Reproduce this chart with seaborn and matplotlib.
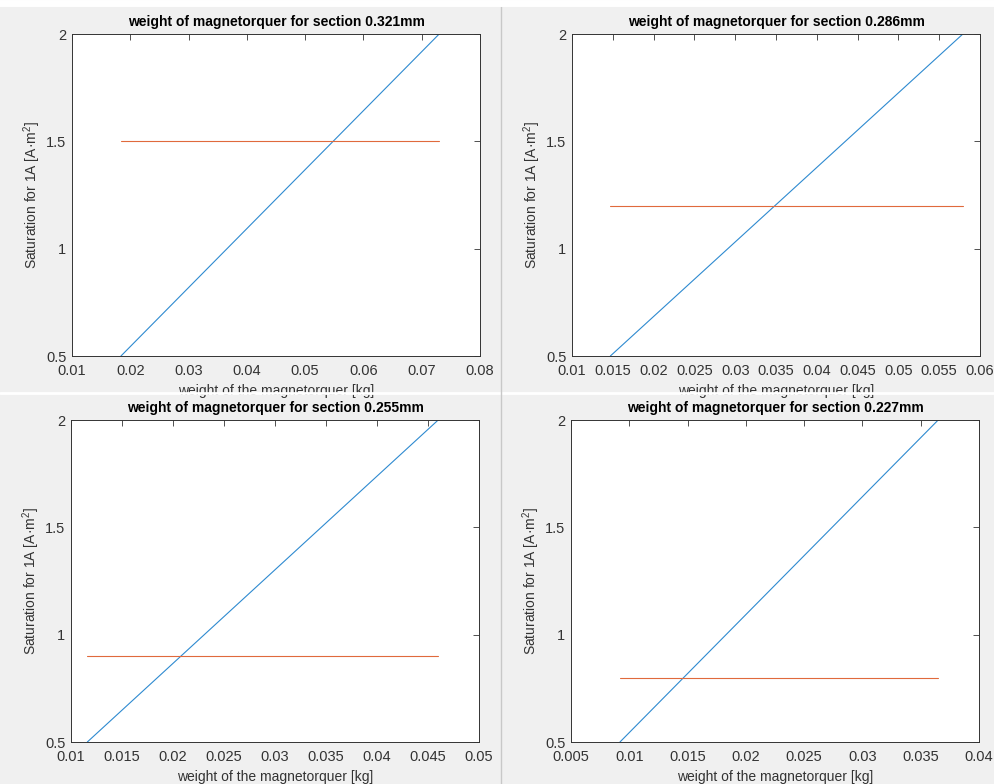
import numpy as np
import pandas as pd
import matplotlib
matplotlib.use('Agg')
import matplotlib.pyplot as plt
import seaborn as sns
from matplotlib.ticker import FormatStrFormatter, MultipleLocator

sns.set_theme(style='white')
plt.rcParams['font.family'] = ['Liberation Sans', 'DejaVu Sans']
plt.rcParams['mathtext.fontset'] = 'custom'
plt.rcParams['mathtext.rm'] = 'Liberation Sans'
plt.rcParams['mathtext.it'] = 'Liberation Sans'

# datos
sections = ['0.321mm', '0.286mm', '0.255mm', '0.227mm']
weight_start = [0.0184, 0.0147, 0.0116, 0.0092]
weight_end = [0.0730, 0.0579, 0.0460, 0.0365]
saturation_start = [0.5, 0.5, 0.5, 0.5]
saturation_end = [2.0, 2.0, 2.0, 2.0]
required = [1.5, 1.2, 0.9, 0.8]
xlims = [(0.01, 0.08), (0.01, 0.06), (0.01, 0.05), (0.005, 0.04)]
xsteps = [0.01, 0.005, 0.005, 0.005]

blue = '#2E8AD0'
red = '#E06A3C'
dark = '#333333'

fig = plt.figure(figsize=(9.95, 7.84), dpi=100, facecolor='#F0F0F0')

# posiciones de los ejes (px medidos en la imagen)
lefts = [72, 572, 71, 571]
tops = [34, 34, 420, 420]
W, H = 995, 784

for i in range(4):
    ax = fig.add_axes([lefts[i] / W, (H - tops[i] - 322) / H, 408 / W, 322 / H])
    ax.set_facecolor('white')
    df = pd.DataFrame({'weight': [weight_start[i], weight_end[i]],
                       'sat': [saturation_start[i], saturation_end[i]]})
    sns.lineplot(data=df, x='weight', y='sat', color=blue, lw=0.8, ax=ax)
    df2 = pd.DataFrame({'weight': [weight_start[i], weight_end[i]],
                        'sat': [required[i], required[i]]})
    sns.lineplot(data=df2, x='weight', y='sat', color=red, lw=0.8, ax=ax)

    ax.set_xlim(*xlims[i])
    ax.set_ylim(0.5, 2)
    ax.xaxis.set_major_locator(MultipleLocator(xsteps[i]))
    ax.yaxis.set_major_locator(MultipleLocator(0.5))
    ax.xaxis.set_major_formatter(FormatStrFormatter('%g'))
    ax.yaxis.set_major_formatter(FormatStrFormatter('%g'))
    ax.tick_params(direction='in', length=4, width=0.6, colors=dark,
                   labelsize=10.5, top=True, right=True)
    ax.tick_params(axis='x', pad=6)
    ax.tick_params(axis='y', pad=4)
    for s in ax.spines.values():
        s.set_color(dark)
        s.set_linewidth(0.7)
    ax.set_title('weight of magnetorquer for section ' + sections[i],
                 fontsize=10, fontweight='bold', color='black', pad=6)
    ax.set_xlabel('weight of the magnetorquer [kg]', fontsize=10, color=dark, labelpad=4)
    ax.set_ylabel('Saturation for 1A [A·m$^2$]', fontsize=10, color=dark, labelpad=2)

# separadores de la captura
fig.add_artist(plt.Line2D([0, 1], [1 - 393 / H, 1 - 393 / H], color='white', lw=2))
fig.add_artist(plt.Line2D([501 / W, 501 / W], [0, 1], color='#C8C8C8', lw=1))
fig.add_artist(plt.Line2D([0, 1], [1 - 3 / H, 1 - 3 / H], color='white', lw=5))

fig.savefig('out.png', dpi=100, facecolor=fig.get_facecolor())
